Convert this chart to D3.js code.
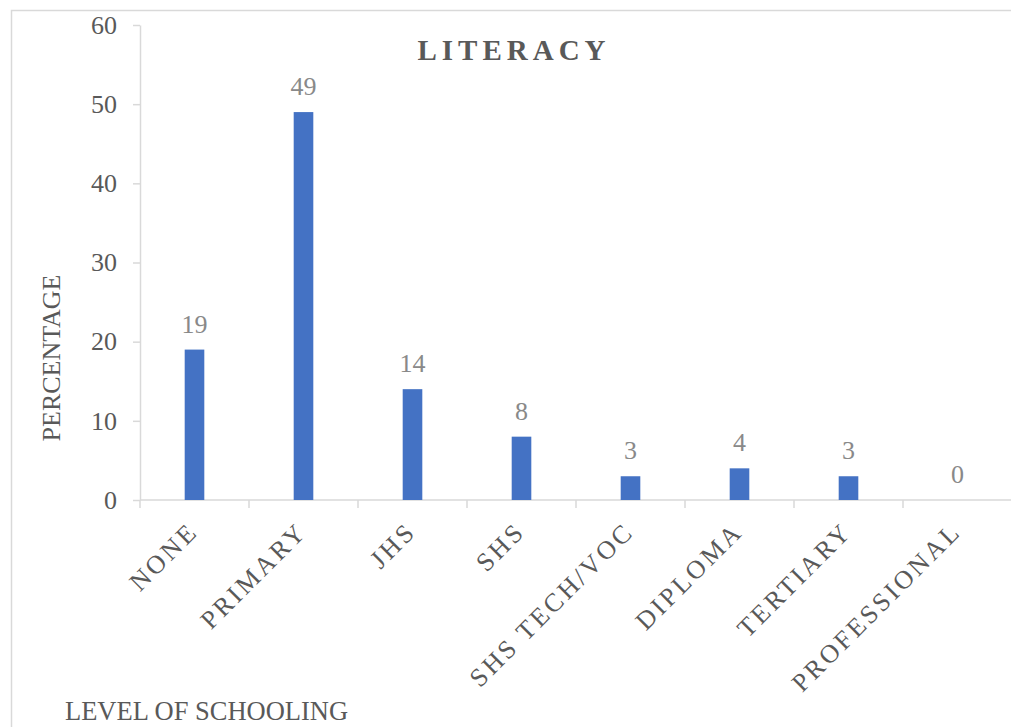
<!DOCTYPE html>
<html>
<head>
<meta charset="utf-8">
<script src="https://cdn.jsdelivr.net/npm/d3@7"></script>
<style>
  html, body { margin: 0; padding: 0; background: #fff; }
  svg { display: block; }
  text { font-family: "Liberation Serif", "Times New Roman", serif; }
</style>
</head>
<body>
<svg id="chart" width="1011" height="727"></svg>
<script>
// Level of schooling categories and the share of respondents in each
const categories = ["NONE", "PRIMARY", "JHS", "SHS", "SHS TECH/VOC", "DIPLOMA", "TERTIARY", "PROFESSIONAL"];
const percentages = [19, 49, 14, 8, 3, 4, 3, 0];
const yTicks = [0, 10, 20, 30, 40, 50, 60];

const svg = d3.select("#chart");
const W = 1011, H = 727;
const plot = { left: 140, right: 1012, top: 25, bottom: 500 };

// outer chart frame
svg.append("rect")
  .attr("x", 11.5).attr("y", 10.5)
  .attr("width", W + 20).attr("height", H + 20)
  .attr("fill", "none").attr("stroke", "#d9d9d9").attr("stroke-width", 1.5);

const x = d3.scaleBand().domain(categories).range([plot.left, plot.right]).padding(0);
const y = d3.scaleLinear().domain([0, 60]).range([plot.bottom, plot.top]);
const barW = x.bandwidth() * 0.18;

// y axis
const yAxis = svg.append("g")
  .attr("transform", `translate(${plot.left},0)`)
  .call(d3.axisLeft(y).tickValues(yTicks).tickSize(7).tickPadding(16).tickSizeOuter(0));
yAxis.select(".domain").attr("stroke", "#d9d9d9").attr("stroke-width", 1.5);
yAxis.selectAll(".tick line").attr("stroke", "#d9d9d9").attr("stroke-width", 1.5);
yAxis.selectAll(".tick text")
  .attr("fill", "#595959")
  .style("font-family", "'Liberation Serif', serif")
  .style("font-size", "26px");

// x axis baseline with separators between categories
const xg = svg.append("g");
xg.append("line")
  .attr("x1", plot.left).attr("x2", plot.right)
  .attr("y1", y(0)).attr("y2", y(0))
  .attr("stroke", "#d9d9d9").attr("stroke-width", 1.5);
const bounds = categories.map(c => x(c)).concat([x(categories[categories.length - 1]) + x.bandwidth()]);
xg.selectAll("line.sep").data(bounds).join("line")
  .attr("class", "sep")
  .attr("x1", d => d).attr("x2", d => d)
  .attr("y1", y(0)).attr("y2", y(0) + 8)
  .attr("stroke", "#d9d9d9").attr("stroke-width", 1.5);

// category labels, rotated
xg.selectAll("text.cat").data(categories).join("text")
  .attr("class", "cat")
  .attr("text-anchor", "end")
  .attr("transform", d => `translate(${x(d) + x.bandwidth() / 2 + 5},${y(0) + 33}) rotate(-45)`)
  .attr("fill", "#595959")
  .style("font-size", "26px")
  .style("letter-spacing", "3px")
  .text(d => d);

// bars
svg.append("g").selectAll("rect").data(percentages).join("rect")
  .attr("x", (d, i) => x(categories[i]) + x.bandwidth() / 2 - barW / 2)
  .attr("y", d => y(d))
  .attr("width", barW)
  .attr("height", d => y(0) - y(d))
  .attr("fill", "#4472c4");

// value labels
svg.append("g").selectAll("text").data(percentages).join("text")
  .attr("x", (d, i) => x(categories[i]) + x.bandwidth() / 2)
  .attr("y", d => y(d) - 17)
  .attr("text-anchor", "middle")
  .attr("fill", "#898989")
  .style("font-size", "26px")
  .text(d => d);

// title
svg.append("text")
  .attr("x", 514).attr("y", 60)
  .attr("text-anchor", "middle")
  .attr("fill", "#595959")
  .style("font-size", "29px")
  .style("font-weight", "bold")
  .style("letter-spacing", "5px")
  .text("LITERACY");

// axis titles
svg.append("text")
  .attr("transform", "translate(60,358) rotate(-90)")
  .attr("text-anchor", "middle")
  .attr("fill", "#595959")
  .style("font-size", "26px")
  .text("PERCENTAGE");

svg.append("text")
  .attr("x", 65).attr("y", 720)
  .attr("fill", "#595959")
  .style("font-size", "26.5px")
  .text("LEVEL OF SCHOOLING");
</script>
</body>
</html>
